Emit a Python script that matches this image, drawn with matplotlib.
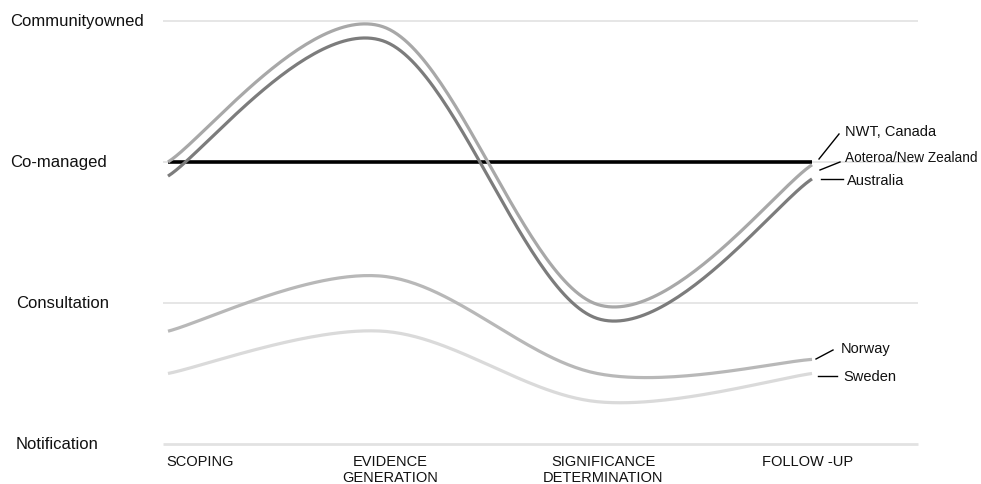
"""
PLOT
- Level of community involvement across the four impact assessment stages
- Smooth (Catmull-Rom) curves, saved as out.png
"""

import matplotlib
matplotlib.use("Agg")
import matplotlib.pyplot as plt
import numpy as np

plt.rcParams["font.family"] = ["Liberation Sans", "DejaVu Sans"]

# data
stages = ["SCOPING", "EVIDENCE\nGENERATION", "SIGNIFICANCE\nDETERMINATION", "FOLLOW -UP"]
levels = ["Notification", "Consultation", "Co-managed", "Communityowned"]

nwt_canada = [2.0, 2.0, 2.0, 2.0]
new_zealand = [2.0, 2.96, 0.99, 1.98]
australia = [1.9, 2.86, 0.89, 1.88]
norway = [0.8, 1.19, 0.5, 0.6]
sweden = [0.5, 0.8, 0.3, 0.5]

series = [
    ("NWT, Canada", nwt_canada, "#000000"),
    ("Aoteroa/New Zealand", new_zealand, "#a8a8a8"),
    ("Australia", australia, "#7c7c7c"),
    ("Norway", norway, "#b8b8b8"),
    ("Sweden", sweden, "#dadada"),
]


def catmull_rom(xs, ys, n=60):
    # cardinal spline (tension 0), end points duplicated
    p = np.column_stack([xs, ys]).astype(float)
    p = np.vstack([p[0], p, p[-1]])
    out = []
    t = np.linspace(0, 1, n)
    h00 = 2 * t**3 - 3 * t**2 + 1
    h10 = t**3 - 2 * t**2 + t
    h01 = -2 * t**3 + 3 * t**2
    h11 = t**3 - t**2
    for i in range(1, len(p) - 2):
        m0 = (p[i + 1] - p[i - 1]) / 2
        m1 = (p[i + 2] - p[i]) / 2
        seg = (h00[:, None] * p[i] + h10[:, None] * m0
               + h01[:, None] * p[i + 1] + h11[:, None] * m1)
        out.append(seg if i == 1 else seg[1:])
    out = np.vstack(out)
    return out[:, 0], out[:, 1]


# pixel layout -> data units (stage spacing 214.67 px, level spacing 141 px)
PX_X, PX_Y = 214.67, 141.0
X0, Y0 = 168, 445

fig = plt.figure(figsize=(9.81, 4.85), dpi=100)
ax = fig.add_axes([0, 0, 1, 1])
ax.set_xlim(-X0 / PX_X, (981 - X0) / PX_X)
ax.set_ylim((Y0 - 485) / PX_Y, Y0 / PX_Y)
ax.axis("off")

def dx(px):
    return (px - X0) / PX_X

def dy(py):
    return (Y0 - py) / PX_Y

x = np.arange(len(stages))

# grid
for lv in range(len(levels)):
    ax.hlines(lv, dx(163), dx(918), color="#e2e2e2",
              lw=2.0 if lv == 0 else 1.2, zorder=1)

# level labels
label_px = [16, 16, 10, 10]
for lv, (name, px) in enumerate(zip(levels, label_px)):
    ax.text(dx(px), lv, name, ha="left", va="center", fontsize=12, color="#111111")

# stage labels
stage_px = [(166, "left"), (390, "center"), (603, "center"), (808, "center")]
for name, (px, ha) in zip(stages, stage_px):
    ax.text(dx(px), dy(455), name, ha=ha, va="top", fontsize=10.5,
            color="#111111", linespacing=1.2)

# curves
for name, vals, col in series:
    sx, sy = catmull_rom(x, vals)
    ax.plot(sx, sy, color=col, lw=2.6 if col == "#000000" else 2.3,
            solid_capstyle="butt", zorder=3)

# end labels with leader lines (pixel positions near the last point)
end_labels = [
    ("NWT, Canada", (819, 160), (839, 135), (845, 132), 10.5),
    ("Aoteroa/New Zealand", (820, 171), (840, 163), (845, 158), 9.8),
    ("Australia", (821, 180), (843, 180), (847, 181), 10.5),
    ("Norway", (816, 360), (833, 351), (841, 349), 10.5),
    ("Sweden", (818, 377), (837, 377), (843, 377), 10.5),
]
for name, a, b, t, fs in end_labels:
    ax.plot([dx(a[0]), dx(b[0])], [dy(a[1]), dy(b[1])], color="#000000", lw=1.0)
    ax.text(dx(t[0]), dy(t[1]), name, ha="left", va="center", fontsize=fs, color="#111111")

fig.savefig("out.png", dpi=100)
